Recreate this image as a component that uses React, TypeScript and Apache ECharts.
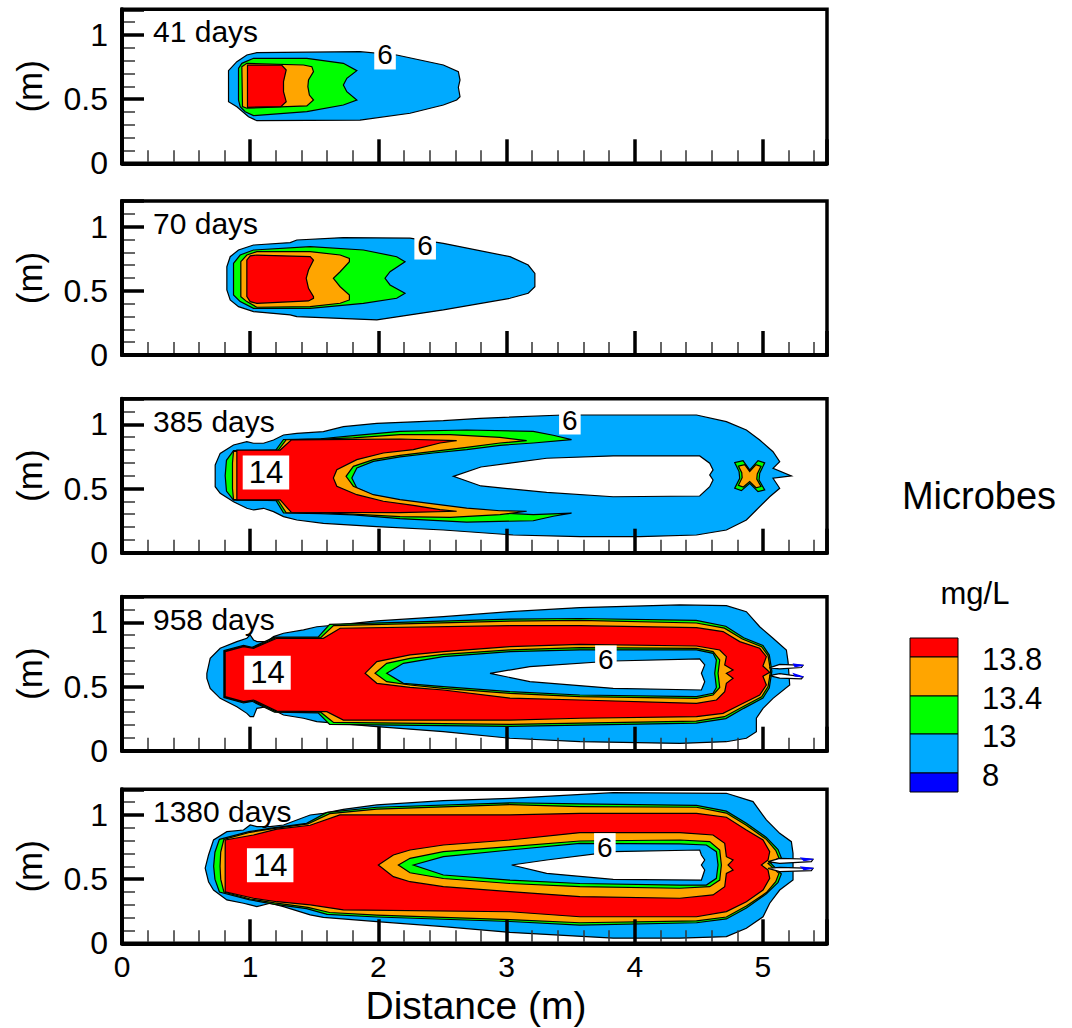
import React, { useEffect, useRef } from 'react';
import * as echarts from 'echarts';

type Pt = [number, number];

const FONT = '"Liberation Sans", Arial, Helvetica, sans-serif';

// ---------- colours of contour levels ----------
const C_RED = '#ff0000';
const C_ORANGE = '#ffa500';
const C_GREEN = '#00ff00';
const C_BLUE = '#00aaff';
const C_DARK = '#0000ff';
const C_WHITE = '#ffffff';

// ---------- panel texts ----------
const PANEL_DAYS = ['41 days', '70 days', '385 days', '958 days', '1380 days'];
const LEGEND_LEVELS = ['13.8', '13.4', '13', '8'];
const LEGEND_COLORS = [C_RED, C_ORANGE, C_GREEN, C_BLUE, C_DARK];
const LABEL_6: Pt[] = [[2.052, 0.844], [2.365, 0.857], [3.494, 1.034], [3.775, 0.707], [3.767, 0.745]];
const LABEL_14: (Pt | null)[] = [null, null, [1.123, 0.625], [1.135, 0.608], [1.156, 0.608]];

// ---------- panel 1 : 41 days ----------
const P1_BLUE: Pt[] = [[0.831,0.722],[0.896,0.792],[0.974,0.844],[1.052,0.862],[1.857,0.870],[2.143,0.844],[2.507,0.766],[2.624,0.714],[2.637,0.649],[2.624,0.592],[2.637,0.519],[2.611,0.493],[2.507,0.454],[2.247,0.390],[1.857,0.337],[1.052,0.332],[0.987,0.363],[0.896,0.441],[0.831,0.480]];
const P1_GREEN: Pt[] = [[0.909,0.740],[0.935,0.779],[1.026,0.818],[1.442,0.818],[1.727,0.779],[1.832,0.722],[1.754,0.662],[1.727,0.610],[1.754,0.558],[1.832,0.493],[1.727,0.454],[1.442,0.402],[1.026,0.372],[0.961,0.402],[0.922,0.442],[0.909,0.493]];
const P1_ORANGE: Pt[] = [[0.935,0.753],[0.974,0.779],[1.416,0.766],[1.481,0.753],[1.494,0.714],[1.455,0.649],[1.450,0.597],[1.462,0.532],[1.494,0.493],[1.442,0.447],[0.974,0.429],[0.940,0.442]];
const P1_RED: Pt[] = [[0.979,0.766],[1.247,0.764],[1.281,0.727],[1.260,0.636],[1.260,0.558],[1.281,0.480],[1.239,0.442],[0.979,0.436]];

// ---------- panel 2 : 70 days ----------
const P2_BLUE: Pt[] = [[0.818,0.688],[0.844,0.766],[0.909,0.818],[1.026,0.857],[1.312,0.876],[1.364,0.896],[1.727,0.915],[2.247,0.910],[2.507,0.870],[3.027,0.766],[3.169,0.701],[3.221,0.636],[3.221,0.532],[3.169,0.481],[3.027,0.442],[2.507,0.351],[1.988,0.273],[1.364,0.299],[1.312,0.312],[1.026,0.338],[0.909,0.377],[0.844,0.429],[0.818,0.507]];
const P2_GREEN: Pt[] = [[0.870,0.714],[0.922,0.779],[1.026,0.818],[1.468,0.844],[1.883,0.818],[2.143,0.766],[2.208,0.727],[2.091,0.649],[2.052,0.598],[2.091,0.546],[2.208,0.481],[2.143,0.442],[1.883,0.403],[1.468,0.364],[1.026,0.364],[0.922,0.416],[0.870,0.468]];
const P2_ORANGE: Pt[] = [[0.927,0.727],[0.974,0.779],[1.052,0.805],[1.468,0.805],[1.702,0.779],[1.774,0.753],[1.774,0.727],[1.702,0.649],[1.649,0.598],[1.702,0.532],[1.774,0.468],[1.774,0.429],[1.702,0.403],[1.468,0.377],[1.052,0.372],[0.974,0.416],[0.927,0.455]];
const P2_RED: Pt[] = [[0.974,0.740],[1.0,0.772],[1.052,0.779],[1.468,0.766],[1.494,0.740],[1.455,0.662],[1.437,0.598],[1.455,0.520],[1.494,0.455],[1.494,0.442],[1.455,0.421],[1.052,0.403],[1.0,0.416],[0.974,0.455]];

// ---------- panel 3 : 385 days ----------
const P3_BLUE: Pt[] = [[0.727,0.683],[0.766,0.774],[0.870,0.839],[0.974,0.865],[1.026,0.853],[1.104,0.853],[1.182,0.878],[1.260,0.917],[1.364,0.930],[1.571,0.943],[1.727,0.982],[1.988,1.008],[2.507,1.029],[2.793,1.047],[3.442,1.073],[4.482,1.073],[4.715,1.021],[4.871,0.956],[4.975,0.878],[5.079,0.787],[5.131,0.709],[5.079,0.658],[5.222,0.598],[5.079,0.580],[5.131,0.502],[5.053,0.436],[4.949,0.333],[4.871,0.255],[4.715,0.177],[4.482,0.138],[4.040,0.125],[3.572,0.125],[3.052,0.138],[2.507,0.177],[1.988,0.203],[1.571,0.229],[1.364,0.255],[1.260,0.281],[1.182,0.320],[1.104,0.346],[1.026,0.333],[0.974,0.346],[0.870,0.397],[0.766,0.463],[0.727,0.514]];
const P3_GREEN: Pt[] = [[0.870,0.795],[1.20,0.80],[1.26,0.882],[1.55,0.888],[1.805,0.912],[2.169,0.946],[2.689,0.956],[3.208,0.946],[3.364,0.915],[3.507,0.881],[3.208,0.855],[2.949,0.837],[2.689,0.803],[2.429,0.777],[2.169,0.746],[1.961,0.712],[1.832,0.660],[1.793,0.582],[1.832,0.504],[1.961,0.447],[2.169,0.401],[2.429,0.369],[2.689,0.335],[2.949,0.309],[3.208,0.296],[3.507,0.309],[3.364,0.284],[3.208,0.249],[2.689,0.239],[2.169,0.265],[1.805,0.295],[1.55,0.305],[1.26,0.31],[1.20,0.41],[0.870,0.41],[0.815,0.48],[0.805,0.60],[0.815,0.72]];
const P3_ORANGE: Pt[] = [[0.870,0.790],[1.22,0.80],[1.28,0.880],[1.55,0.885],[1.805,0.895],[2.169,0.920],[2.559,0.920],[2.949,0.899],[3.157,0.873],[2.949,0.855],[2.689,0.821],[2.429,0.790],[2.169,0.759],[1.961,0.725],[1.805,0.673],[1.748,0.595],[1.805,0.518],[1.961,0.452],[2.169,0.413],[2.429,0.380],[2.689,0.348],[2.949,0.327],[3.157,0.323],[2.949,0.296],[2.559,0.276],[2.169,0.281],[1.805,0.300],[1.55,0.310],[1.28,0.312],[1.22,0.405],[0.870,0.415],[0.862,0.50],[0.862,0.70]];
const P3_RED: Pt[] = [[0.896,0.800],[1.234,0.800],[1.32,0.878],[1.805,0.883],[2.169,0.886],[2.611,0.873],[2.481,0.855],[2.273,0.803],[2.039,0.777],[1.832,0.725],[1.676,0.647],[1.649,0.582],[1.676,0.518],[1.832,0.452],[2.039,0.401],[2.273,0.369],[2.481,0.335],[2.611,0.323],[2.169,0.312],[1.32,0.315],[1.234,0.411],[0.896,0.411]];
const P3_WHITE: Pt[] = [[2.585,0.595],[2.80,0.668],[3.313,0.736],[3.832,0.754],[4.507,0.754],[4.585,0.697],[4.611,0.645],[4.585,0.606],[4.611,0.567],[4.585,0.514],[4.507,0.442],[3.832,0.436],[3.313,0.470],[2.80,0.520]];
const P3_XGREEN: Pt[] = [[4.780,0.702],[4.845,0.717],[4.897,0.645],[4.962,0.717],[5.014,0.700],[4.975,0.619],[4.970,0.567],[5.014,0.489],[4.962,0.476],[4.897,0.541],[4.832,0.484],[4.780,0.502],[4.819,0.580],[4.814,0.632]];
const P3_XORANGE: Pt[] = [[4.809,0.675],[4.858,0.686],[4.897,0.633],[4.946,0.686],[4.985,0.673],[4.956,0.613],[4.952,0.574],[4.985,0.516],[4.946,0.506],[4.897,0.555],[4.847,0.512],[4.809,0.525],[4.838,0.584],[4.835,0.623]];

// ---------- panel 4 : 958 days ----------
const P4_BLUE: Pt[] = [[0.662,0.603],[0.688,0.720],[0.766,0.798],[0.896,0.850],[0.974,0.876],[1.0,0.902],[1.026,0.863],[1.052,0.850],[1.130,0.850],[1.182,0.889],[1.260,0.915],[1.416,0.941],[1.520,0.966],[1.727,0.985],[1.988,1.011],[2.507,1.044],[3.027,1.083],[3.572,1.115],[4.352,1.136],[4.715,1.130],[4.871,1.083],[4.975,0.966],[5.079,0.876],[5.183,0.785],[5.196,0.694],[5.209,0.512],[5.079,0.408],[5.001,0.330],[4.949,0.253],[4.949,0.148],[4.871,0.097],[4.715,0.070],[4.352,0.057],[3.572,0.070],[3.027,0.097],[2.507,0.148],[1.988,0.187],[1.520,0.226],[1.416,0.253],[1.260,0.278],[1.182,0.317],[1.130,0.343],[1.052,0.330],[1.026,0.265],[1.0,0.265],[0.974,0.291],[0.896,0.343],[0.766,0.408],[0.688,0.486],[0.662,0.564]];
const P4_GREEN: Pt[] = [[0.795,0.78],[0.948,0.82],[1.015,0.805],[1.19,0.885],[1.53,0.885],[1.62,0.985],[3.027,1.025],[3.572,1.03],[4.48,1.015],[4.71,0.97],[4.85,0.88],[5.00,0.82],[5.05,0.745],[5.07,0.62],[5.05,0.49],[5.00,0.41],[4.85,0.33],[4.71,0.25],[4.48,0.215],[3.572,0.20],[3.027,0.19],[1.62,0.205],[1.53,0.295],[1.19,0.30],[1.015,0.385],[0.948,0.372],[0.795,0.415]];
const P4_ORANGE: Pt[] = [[0.80,0.775],[0.948,0.815],[1.02,0.80],[1.20,0.88],[1.55,0.88],[1.65,0.975],[3.027,1.01],[3.572,1.015],[4.48,0.995],[4.70,0.955],[4.84,0.87],[4.99,0.81],[5.04,0.74],[5.06,0.62],[5.04,0.50],[4.99,0.42],[4.84,0.34],[4.70,0.265],[4.48,0.23],[3.572,0.215],[3.027,0.205],[1.65,0.22],[1.55,0.30],[1.20,0.305],[1.02,0.39],[0.948,0.378],[0.80,0.418]];
const P4_RED: Pt[] = [[0.805,0.772],[0.948,0.811],[1.026,0.798],[1.208,0.876],[1.571,0.876],[1.702,0.954],[3.027,0.974],[3.572,0.974],[4.482,0.959],[4.689,0.928],[4.819,0.850],[4.975,0.798],[5.027,0.733],[5.00,0.66],[5.053,0.611],[5.00,0.58],[5.027,0.512],[4.975,0.434],[4.819,0.356],[4.689,0.291],[4.482,0.265],[3.572,0.253],[3.027,0.239],[1.727,0.239],[1.598,0.304],[1.208,0.309],[1.026,0.395],[0.948,0.382],[0.805,0.421]];
const P4_IORANGE: Pt[] = [[1.896,0.603],[1.988,0.694],[2.247,0.746],[2.507,0.772],[3.027,0.811],[3.572,0.829],[4.482,0.816],[4.663,0.785],[4.715,0.733],[4.702,0.668],[4.767,0.629],[4.715,0.603],[4.767,0.564],[4.715,0.525],[4.702,0.460],[4.638,0.395],[4.482,0.369],[3.572,0.395],[3.027,0.410],[2.507,0.473],[2.247,0.493],[1.988,0.525]];
const P4_IGREEN: Pt[] = [[1.974,0.603],[2.065,0.681],[2.247,0.720],[2.507,0.751],[3.027,0.785],[3.572,0.803],[4.482,0.798],[4.611,0.772],[4.663,0.707],[4.650,0.603],[4.663,0.493],[4.611,0.434],[4.482,0.408],[3.572,0.421],[3.027,0.447],[2.507,0.486],[2.247,0.512],[2.065,0.538]];
const P4_IBLUE: Pt[] = [[2.065,0.603],[2.195,0.681],[2.507,0.733],[3.027,0.772],[3.572,0.785],[4.482,0.785],[4.611,0.759],[4.637,0.707],[4.624,0.603],[4.637,0.493],[4.611,0.447],[4.482,0.421],[3.572,0.434],[3.027,0.460],[2.507,0.499],[2.195,0.525]];
const P4_WHITE: Pt[] = [[2.871,0.603],[3.182,0.655],[3.832,0.699],[4.507,0.715],[4.546,0.668],[4.520,0.603],[4.546,0.538],[4.520,0.473],[3.832,0.486],[3.182,0.538]];
const P4_FINGER_A: Pt[] = [[5.05,0.645],[5.131,0.672],[5.313,0.665],[5.30,0.648],[5.131,0.637]];
const P4_FINGER_B: Pt[] = [[5.05,0.585],[5.131,0.600],[5.313,0.575],[5.30,0.560],[5.131,0.565]];
const P4_TIP_A: Pt[] = [[5.24,0.675],[5.313,0.665],[5.25,0.656]];
const P4_TIP_B: Pt[] = [[5.24,0.600],[5.313,0.575],[5.25,0.582]];

// ---------- panel 5 : 1380 days ----------
const P5_BLUE: Pt[] = [[0.649,0.585],[0.675,0.688],[0.714,0.805],[0.818,0.870],[0.948,0.883],[1.0,0.922],[1.052,0.909],[1.156,0.909],[1.260,0.922],[1.468,1.0],[1.571,1.013],[1.727,1.044],[1.988,1.078],[2.507,1.111],[3.027,1.130],[3.832,1.174],[4.715,1.169],[4.923,1.104],[5.027,0.961],[5.131,0.857],[5.222,0.792],[5.235,0.701],[5.235,0.493],[5.131,0.415],[5.053,0.312],[5.001,0.207],[4.871,0.117],[4.715,0.052],[4.352,0.040],[3.832,0.040],[3.027,0.085],[2.507,0.130],[1.988,0.169],[1.571,0.202],[1.468,0.221],[1.260,0.286],[1.156,0.312],[1.052,0.286],[1.0,0.299],[0.948,0.312],[0.818,0.338],[0.714,0.415],[0.675,0.480]];
const P5_GREEN: Pt[] = [[0.76,0.81],[0.99,0.87],[1.18,0.90],[1.44,0.935],[1.60,1.02],[1.988,1.06],[3.027,1.095],[3.572,1.086],[4.482,1.075],[4.715,1.03],[4.871,0.935],[5.027,0.825],[5.118,0.73],[5.144,0.665],[5.06,0.625],[5.144,0.54],[5.118,0.475],[5.027,0.385],[4.871,0.275],[4.715,0.19],[4.482,0.16],[3.572,0.142],[3.027,0.17],[1.988,0.205],[1.60,0.225],[1.44,0.27],[1.18,0.305],[0.99,0.34],[0.76,0.40],[0.725,0.50],[0.715,0.60],[0.725,0.71]];
const P5_ORANGE: Pt[] = [[0.795,0.81],[1.0,0.865],[1.19,0.895],[1.45,0.93],[1.62,1.01],[1.988,1.045],[3.027,1.08],[3.572,1.065],[4.482,1.06],[4.715,1.015],[4.871,0.92],[5.027,0.81],[5.10,0.725],[5.125,0.665],[5.04,0.622],[5.125,0.545],[5.10,0.48],[5.027,0.395],[4.871,0.29],[4.715,0.205],[4.482,0.175],[3.572,0.16],[3.027,0.185],[1.988,0.22],[1.62,0.24],[1.45,0.28],[1.19,0.315],[1.0,0.345],[0.795,0.40],[0.77,0.50],[0.765,0.60],[0.77,0.71]];
const P5_RED: Pt[] = [[0.805,0.805],[1.026,0.844],[1.208,0.889],[1.468,0.92],[1.70,1.0],[3.027,1.0],[3.572,1.013],[4.482,1.013],[4.715,0.982],[4.871,0.883],[5.001,0.805],[5.053,0.714],[5.040,0.649],[4.988,0.610],[5.040,0.571],[5.053,0.506],[5.001,0.415],[4.871,0.324],[4.715,0.247],[4.482,0.207],[3.572,0.207],[3.027,0.246],[1.727,0.26],[1.468,0.30],[1.208,0.324],[1.026,0.351],[0.805,0.402]];
const P5_IORANGE: Pt[] = [[2.0,0.610],[2.117,0.688],[2.247,0.727],[2.507,0.766],[3.027,0.805],[3.572,0.862],[4.352,0.862],[4.611,0.844],[4.702,0.779],[4.715,0.675],[4.767,0.649],[4.728,0.610],[4.767,0.571],[4.715,0.545],[4.702,0.441],[4.611,0.377],[4.352,0.351],[3.572,0.364],[3.027,0.402],[2.507,0.441],[2.247,0.480],[2.117,0.519]];
const P5_IGREEN: Pt[] = [[2.156,0.610],[2.247,0.662],[2.507,0.714],[3.027,0.753],[3.572,0.797],[4.352,0.805],[4.585,0.792],[4.663,0.727],[4.676,0.610],[4.663,0.493],[4.585,0.441],[4.352,0.429],[3.572,0.441],[3.027,0.466],[2.507,0.505],[2.247,0.550]];
const P5_IBLUE: Pt[] = [[2.273,0.610],[2.507,0.675],[3.027,0.727],[3.572,0.779],[4.352,0.774],[4.559,0.766],[4.637,0.714],[4.650,0.610],[4.637,0.506],[4.559,0.454],[4.352,0.454],[3.572,0.466],[3.027,0.493],[2.507,0.532]];
const P5_WHITE: Pt[] = [[3.04,0.610],[3.313,0.649],[3.832,0.714],[4.507,0.727],[4.520,0.688],[4.546,0.649],[4.520,0.610],[4.546,0.571],[4.520,0.493],[3.832,0.498],[3.313,0.545]];
const P5_FINGER_A: Pt[] = [[5.04,0.636],[5.131,0.662],[5.391,0.655],[5.378,0.636],[5.131,0.623]];
const P5_FINGER_B: Pt[] = [[5.04,0.584],[5.131,0.592],[5.391,0.584],[5.378,0.566],[5.131,0.558]];
const P5_TIP_A: Pt[] = [[5.30,0.664],[5.391,0.655],[5.32,0.645]];
const P5_TIP_B: Pt[] = [[5.30,0.594],[5.391,0.584],[5.32,0.575]];

type Layer = { c: string; s?: string; pts: Pt[] };

const PANELS: Layer[][] = [
  [
    { c: C_BLUE, pts: P1_BLUE }, { c: C_GREEN, pts: P1_GREEN }, { c: C_ORANGE, pts: P1_ORANGE }, { c: C_RED, pts: P1_RED },
  ],
  [
    { c: C_BLUE, pts: P2_BLUE }, { c: C_GREEN, pts: P2_GREEN }, { c: C_ORANGE, pts: P2_ORANGE }, { c: C_RED, pts: P2_RED },
  ],
  [
    { c: C_BLUE, pts: P3_BLUE }, { c: C_GREEN, pts: P3_GREEN }, { c: C_ORANGE, pts: P3_ORANGE }, { c: C_RED, pts: P3_RED },
    { c: C_WHITE, pts: P3_WHITE }, { c: C_GREEN, pts: P3_XGREEN }, { c: C_ORANGE, pts: P3_XORANGE },
  ],
  [
    { c: C_BLUE, pts: P4_BLUE }, { c: C_GREEN, pts: P4_GREEN }, { c: C_ORANGE, pts: P4_ORANGE }, { c: C_RED, pts: P4_RED },
    { c: C_ORANGE, pts: P4_IORANGE }, { c: C_GREEN, pts: P4_IGREEN }, { c: C_BLUE, pts: P4_IBLUE }, { c: C_WHITE, pts: P4_WHITE },
    { c: C_WHITE, pts: P4_FINGER_A }, { c: C_WHITE, pts: P4_FINGER_B },
    { c: C_DARK, s: C_DARK, pts: P4_TIP_A }, { c: C_DARK, s: C_DARK, pts: P4_TIP_B },
  ],
  [
    { c: C_BLUE, pts: P5_BLUE }, { c: C_GREEN, pts: P5_GREEN }, { c: C_ORANGE, pts: P5_ORANGE }, { c: C_RED, pts: P5_RED },
    { c: C_ORANGE, pts: P5_IORANGE }, { c: C_GREEN, pts: P5_IGREEN }, { c: C_BLUE, pts: P5_IBLUE }, { c: C_WHITE, pts: P5_WHITE },
    { c: C_WHITE, pts: P5_FINGER_A }, { c: C_WHITE, pts: P5_FINGER_B },
    { c: C_DARK, s: C_DARK, pts: P5_TIP_A }, { c: C_DARK, s: C_DARK, pts: P5_TIP_B },
  ],
];

// layout (pixels)
const GRID_LEFT = 122;
const GRID_WIDTH = 705;
const GRID_HEIGHT = 154;
const GRID_TOPS = [9.3, 201, 398.7, 596.7, 789.3];

function buildOption() {
  const grid: any[] = [];
  const xAxis: any[] = [];
  const yAxis: any[] = [];
  const series: any[] = [];
  const graphic: any[] = [];

  for (let i = 0; i < 5; i++) {
    const last = i === 4;
    grid.push({
      left: GRID_LEFT, width: GRID_WIDTH, top: GRID_TOPS[i], height: GRID_HEIGHT,
      show: true, backgroundColor: '#fff', borderColor: '#000', borderWidth: 3.5,
      containLabel: false, outerBoundsMode: 'none',
    });
    // major x
    xAxis.push({
      type: 'value', gridIndex: i, position: 'bottom', min: 0, max: 5.5, interval: 1, z: 10,
      axisLine: { show: true, onZero: false, lineStyle: { color: '#000', width: 4 } },
      axisTick: { show: true, inside: true, length: 24, lineStyle: { color: '#000', width: 3.5 } },
      axisLabel: {
        show: last, color: '#000', fontSize: 30, fontFamily: FONT, margin: 8,
        formatter: (v: number) => (Math.abs(v - Math.round(v)) < 1e-6 ? String(Math.round(v)) : ''),
      },
      splitLine: { show: false },
    });
    // minor x
    xAxis.push({
      type: 'value', gridIndex: i, position: 'bottom', min: 0, max: 5.5, interval: 0.2, z: 9,
      axisLine: { show: false, onZero: false },
      axisTick: { show: true, inside: true, length: 13, lineStyle: { color: '#333', width: 1.5 } },
      axisLabel: { show: false },
      splitLine: { show: false },
    });
    // major y
    yAxis.push({
      type: 'value', gridIndex: i, position: 'left', min: 0, max: 1.2, interval: 0.5, z: 10,
      axisLine: { show: true, onZero: false, lineStyle: { color: '#000', width: 4 } },
      axisTick: { show: true, inside: true, length: 22, lineStyle: { color: '#000', width: 3.5 } },
      axisLabel: {
        show: true, color: '#000', fontSize: 32, fontFamily: FONT, margin: 14,
        formatter: (v: number) => (v > 1.05 ? '' : String(Math.round(v * 10) / 10)),
      },
      splitLine: { show: false },
    });
    // minor y
    yAxis.push({
      type: 'value', gridIndex: i, position: 'left', min: 0, max: 1.2, interval: 0.1, z: 9,
      axisLine: { show: false, onZero: false },
      axisTick: { show: true, inside: true, length: 13, lineStyle: { color: '#333', width: 1.5 } },
      axisLabel: { show: false },
      splitLine: { show: false },
    });

    const layers = PANELS[i];
    series.push({
      type: 'custom',
      xAxisIndex: 2 * i,
      yAxisIndex: 2 * i,
      silent: true,
      z: 2,
      data: layers.map((L) => L.pts[0]),
      encode: { x: 0, y: 1 },
      renderItem: (params: any, api: any) => {
        const L = layers[params.dataIndex];
        const points = L.pts.map((p) => api.coord(p));
        return {
          type: 'polygon',
          shape: { points },
          style: { fill: L.c, stroke: L.s || '#000', lineWidth: 1.2 },
        };
      },
    });

    const labels: { p: Pt; t: string; fs: number; pad: number[] }[] = [];
    labels.push({ p: LABEL_6[i], t: '6', fs: 28, pad: [1, 3, 0, 3] });
    const l14 = LABEL_14[i];
    if (l14) labels.push({ p: l14, t: '14', fs: 31, pad: [2, 6, 1, 6] });
    series.push({
      type: 'custom',
      xAxisIndex: 2 * i,
      yAxisIndex: 2 * i,
      silent: true,
      z: 5,
      data: labels.map((l) => l.p),
      encode: { x: 0, y: 1 },
      renderItem: (params: any, api: any) => {
        const l = labels[params.dataIndex];
        const c = api.coord(l.p);
        return {
          type: 'text',
          x: c[0],
          y: c[1],
          style: {
            text: l.t, fill: '#000', font: `${l.fs}px ${FONT}`,
            backgroundColor: '#fff', padding: l.pad, align: 'center', verticalAlign: 'middle',
          },
        };
      },
    });

    // day label
    graphic.push({
      type: 'text', left: 153, top: GRID_TOPS[i] + 7.5, z: 100,
      style: { text: PANEL_DAYS[i], fill: '#000', font: `30px ${FONT}` },
    });
    // y axis name
    graphic.push({
      type: 'text', x: 29, y: GRID_TOPS[i] + GRID_HEIGHT / 2, rotation: Math.PI / 2, z: 100,
      style: { text: '(m)', fill: '#000', font: `35px ${FONT}`, align: 'center', verticalAlign: 'middle' },
    });
  }

  // x axis name
  graphic.push({
    type: 'text', x: 476, y: 1005, z: 100,
    style: { text: 'Distance (m)', fill: '#000', font: `39px ${FONT}`, align: 'center', verticalAlign: 'middle' },
  });

  // legend
  graphic.push({
    type: 'text', x: 979, y: 496, z: 100,
    style: { text: 'Microbes', fill: '#000', font: `38px ${FONT}`, align: 'center', verticalAlign: 'middle' },
  });
  graphic.push({
    type: 'text', x: 975, y: 593, z: 100,
    style: { text: 'mg/L', fill: '#000', font: `31px ${FONT}`, align: 'center', verticalAlign: 'middle' },
  });
  const boxEdges = [638, 657, 696, 734, 773, 792];
  for (let k = 0; k < 5; k++) {
    graphic.push({
      type: 'rect', z: 100,
      shape: { x: 910, y: boxEdges[k], width: 48, height: boxEdges[k + 1] - boxEdges[k] },
      style: { fill: LEGEND_COLORS[k], stroke: '#000', lineWidth: 1 },
    });
  }
  for (let k = 0; k < 4; k++) {
    graphic.push({
      type: 'text', x: 982, y: boxEdges[k + 1] + 2, z: 100,
      style: { text: LEGEND_LEVELS[k], fill: '#000', font: `31px ${FONT}`, align: 'left', verticalAlign: 'middle' },
    });
  }

  return {
    animation: false,
    backgroundColor: '#fff',
    grid,
    xAxis,
    yAxis,
    series,
    graphic,
  };
}

export default function App() {
  const ref = useRef<HTMLDivElement>(null);
  useEffect(() => {
    if (!ref.current) return;
    const chart = echarts.init(ref.current, undefined, { renderer: 'svg' });
    chart.setOption(buildOption() as any);
    return () => chart.dispose();
  }, []);
  return (
    <div
      ref={ref}
      style={{ position: 'absolute', left: 0, top: 0, width: 1072, height: 1028, background: '#fff' }}
    />
  );
}
